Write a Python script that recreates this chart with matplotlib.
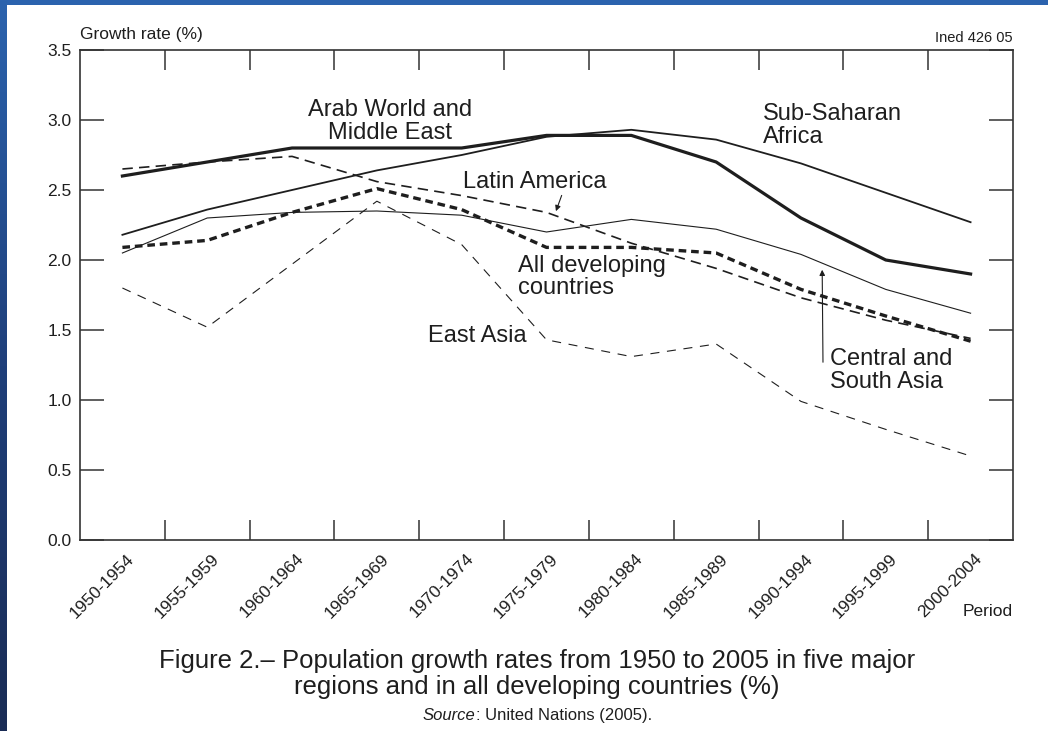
import numpy as np
import matplotlib
matplotlib.use("Agg")
import matplotlib.pyplot as plt
from matplotlib.transforms import ScaledTranslation
from matplotlib.colors import LinearSegmentedColormap

plt.rcParams['font.family'] = ['Liberation Sans', 'DejaVu Sans']
plt.rcParams['lines.scale_dashes'] = False

periods = ["1950-1954", "1955-1959", "1960-1964", "1965-1969", "1970-1974",
           "1975-1979", "1980-1984", "1985-1989", "1990-1994", "1995-1999",
           "2000-2004"]

arab_world = [2.60, 2.70, 2.80, 2.80, 2.80, 2.89, 2.89, 2.70, 2.30, 2.00, 1.90]
sub_saharan = [2.18, 2.36, 2.50, 2.64, 2.75, 2.88, 2.93, 2.86, 2.69, 2.48, 2.27]
latin_america = [2.65, 2.70, 2.74, 2.56, 2.46, 2.34, 2.12, 1.94, 1.73, 1.57, 1.44]
all_developing = [2.09, 2.14, 2.34, 2.51, 2.36, 2.09, 2.09, 2.05, 1.79, 1.60, 1.42]
central_south_asia = [2.05, 2.30, 2.34, 2.35, 2.32, 2.20, 2.29, 2.22, 2.04, 1.79, 1.62]
east_asia = [1.80, 1.52, 1.97, 2.42, 2.11, 1.43, 1.31, 1.40, 0.99, 0.79, 0.60]

ink = "#1e1e1e"
lbl = 17

fig = plt.figure(figsize=(10.48, 7.31), dpi=100, facecolor="white")

# slide border (blue strip top and left)
top_strip = fig.add_axes([0, 1 - 5 / 731, 1, 5 / 731])
top_strip.add_patch(plt.Rectangle((0, 0), 1, 1, color="#2b63ae", transform=top_strip.transAxes))
top_strip.axis("off")
left_strip = fig.add_axes([0, 0, 7 / 1048, 1])
grad = np.linspace(0, 1, 256).reshape(-1, 1)
cmap = LinearSegmentedColormap.from_list("slide", ["#2b63ae", "#1f3f7a", "#1a2c55"])
left_strip.imshow(grad, aspect="auto", cmap=cmap, extent=[0, 1, 0, 1])
left_strip.axis("off")

ax = fig.add_axes([80 / 1048, (731 - 540) / 731, (1013 - 80) / 1048, 490 / 731])
x = np.arange(len(periods))

ax.plot(x, arab_world, color=ink, lw=2.3, solid_joinstyle="round")
ax.plot(x, sub_saharan, color=ink, lw=1.3)
ax.plot(x, central_south_asia, color=ink, lw=0.8)
ax.plot(x, latin_america, color=ink, lw=1.2, linestyle=(0, (7.5, 4.5)))
ax.plot(x, all_developing, color=ink, lw=2.4, linestyle=(0, (5.5, 3.5)))
ax.plot(x, east_asia, color=ink, lw=0.8, linestyle=(0, (6.5, 5.5)))

ax.set_xlim(-0.5, len(periods) - 0.5)
ax.set_ylim(0, 3.5)

for s in ax.spines.values():
    s.set_color("#333333")
    s.set_linewidth(1.2)

ax.set_yticks(np.arange(0, 3.51, 0.5))
ax.set_yticklabels([f"{v:.1f}" for v in np.arange(0, 3.51, 0.5)], fontsize=12.5, color=ink)
ax.tick_params(axis="y", direction="in", length=17, width=1.1, color="#333333",
               left=True, right=True, pad=6)

ax.set_xticks(x)
ax.set_xticklabels(periods, rotation=45, ha="right", va="top", rotation_mode="anchor",
                   fontsize=12.5, color=ink)
ax.tick_params(axis="x", length=0, pad=8)
offset = ScaledTranslation(4 / 100, 0, fig.dpi_scale_trans)
for lab in ax.get_xticklabels():
    lab.set_transform(lab.get_transform() + offset)

ax.set_xticks(np.arange(0.5, len(periods) - 1, 1), minor=True)
ax.tick_params(axis="x", which="minor", direction="in", length=14.5, width=1.1,
               color="#333333", top=True, bottom=True)

# labels on the lines
ax.text(3.16, 2.99, "Arab World and\nMiddle East", ha="center", va="center",
        fontsize=lbl, color=ink, linespacing=1.02)
ax.text(7.55, 2.96, "Sub-Saharan\nAfrica", ha="left", va="center",
        fontsize=lbl, color=ink, linespacing=1.05)
ax.text(4.02, 2.56, "Latin America", ha="left", va="center", fontsize=lbl, color=ink)
ax.annotate("", xy=(5.10, 2.33), xytext=(5.19, 2.48),
            arrowprops=dict(arrowstyle="-|>", lw=0.8, color=ink, mutation_scale=8))
ax.text(4.66, 1.88, "All developing\ncountries", ha="left", va="center",
        fontsize=lbl, color=ink, linespacing=1.02)
ax.text(3.60, 1.46, "East Asia", ha="left", va="center", fontsize=lbl, color=ink)
ax.text(8.34, 1.21, "Central and\nSouth Asia", ha="left", va="center",
        fontsize=lbl, color=ink, linespacing=1.05)
ax.annotate("", xy=(8.25, 1.95), xytext=(8.26, 1.25),
            arrowprops=dict(arrowstyle="-|>", lw=0.8, color=ink, mutation_scale=8))

fig.text(80 / 1048, 1 - 34 / 731, "Growth rate (%)", ha="left", va="center",
         fontsize=12.5, color=ink)
fig.text(1013 / 1048, 1 - 38 / 731, "Ined 426 05", ha="right", va="center",
         fontsize=10.5, color=ink)
fig.text(1013 / 1048, 1 - 611 / 731, "Period", ha="right", va="center",
         fontsize=12.5, color=ink)

fig.text(537 / 1048, 1 - 674 / 731,
         "Figure 2.\u2013 Population growth rates from 1950 to 2005 in five major\n"
         "regions and in all developing countries (%)",
         ha="center", va="center", fontsize=18.5, color=ink, linespacing=1.1)

# source line: italic "Source" followed by upright text on the same baseline
src_y = 1 - 720 / 731
src = fig.text(423 / 1048, src_y, "Source", ha="left", va="baseline",
               fontsize=12, color=ink, fontstyle="italic")
renderer = fig.canvas.get_renderer()
src_end = src.get_window_extent(renderer).x1 / fig.bbox.width
fig.text(src_end, src_y, ": United Nations (2005).", ha="left", va="baseline",
         fontsize=12, color=ink)

fig.savefig("out.png", dpi=100, facecolor="white")
